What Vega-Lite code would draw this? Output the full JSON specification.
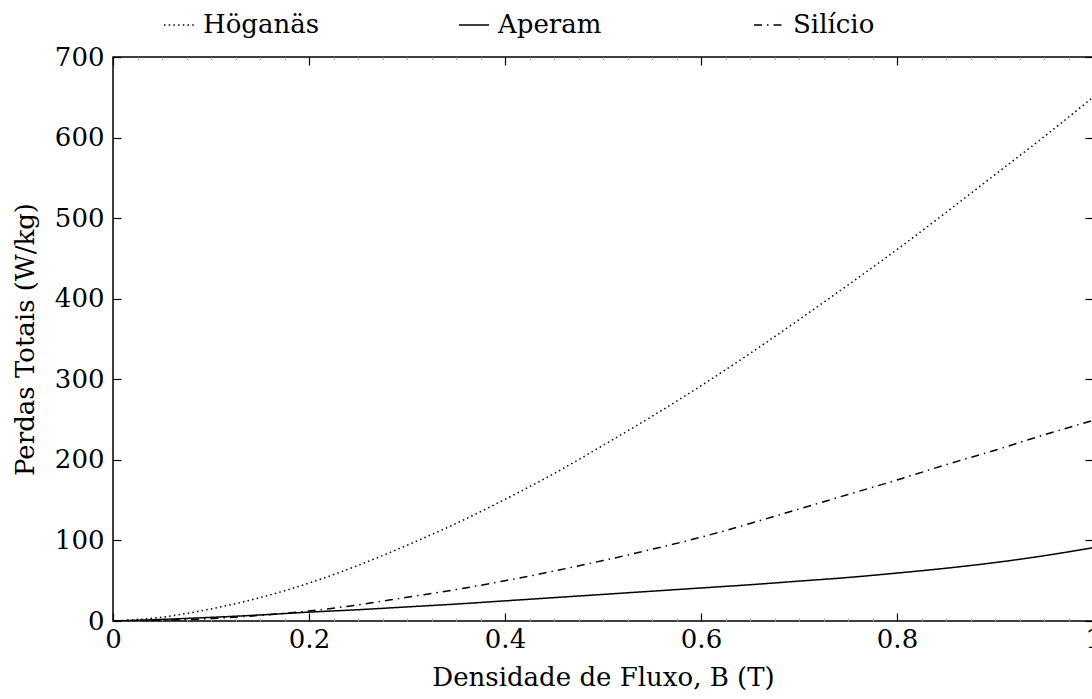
{
  "$schema": "https://vega.github.io/schema/vega-lite/v6.json",
  "width": 980,
  "height": 564,
  "autosize": {"type": "none"},
  "padding": {"left": 113, "top": 57, "right": 0, "bottom": 78},
  "background": "white",
  "config": {
    "view": {"stroke": "black", "strokeWidth": 1.5},
    "font": "DejaVu Serif",
    "axis": {"labelFont": "DejaVu Serif", "titleFont": "DejaVu Serif", "labelFontSize": 26, "titleFontSize": 26, "titleFontWeight": "normal", "labelColor": "black", "titleColor": "black", "grid": false, "domain": false, "tickColor": "black"},
    "legend": {"labelFont": "DejaVu Serif", "labelFontSize": 26, "labelColor": "black"}
  },
  "data": {"values": [
    {"B":0,"P":0,"m":"Höganäs"},{"B":0.05,"P":4.7,"m":"Höganäs"},{"B":0.1,"P":15,"m":"Höganäs"},{"B":0.15,"P":29,"m":"Höganäs"},{"B":0.2,"P":47,"m":"Höganäs"},{"B":0.25,"P":69,"m":"Höganäs"},{"B":0.3,"P":94,"m":"Höganäs"},{"B":0.35,"P":121,"m":"Höganäs"},{"B":0.4,"P":151,"m":"Höganäs"},{"B":0.45,"P":183,"m":"Höganäs"},{"B":0.5,"P":218,"m":"Höganäs"},{"B":0.55,"P":254,"m":"Höganäs"},{"B":0.6,"P":292,"m":"Höganäs"},{"B":0.65,"P":332,"m":"Höganäs"},{"B":0.7,"P":374,"m":"Höganäs"},{"B":0.75,"P":417,"m":"Höganäs"},{"B":0.8,"P":461,"m":"Höganäs"},{"B":0.85,"P":507,"m":"Höganäs"},{"B":0.9,"P":554,"m":"Höganäs"},{"B":0.95,"P":601,"m":"Höganäs"},{"B":1.0,"P":650,"m":"Höganäs"},
    {"B":0,"P":0,"m":"Aperam"},{"B":0.05,"P":2,"m":"Aperam"},{"B":0.1,"P":4.5,"m":"Aperam"},{"B":0.15,"P":7.5,"m":"Aperam"},{"B":0.2,"P":11,"m":"Aperam"},{"B":0.25,"P":14,"m":"Aperam"},{"B":0.3,"P":17.5,"m":"Aperam"},{"B":0.35,"P":21,"m":"Aperam"},{"B":0.4,"P":25,"m":"Aperam"},{"B":0.45,"P":29,"m":"Aperam"},{"B":0.5,"P":33,"m":"Aperam"},{"B":0.55,"P":37,"m":"Aperam"},{"B":0.6,"P":41,"m":"Aperam"},{"B":0.65,"P":45,"m":"Aperam"},{"B":0.7,"P":49.5,"m":"Aperam"},{"B":0.75,"P":54,"m":"Aperam"},{"B":0.8,"P":59.5,"m":"Aperam"},{"B":0.85,"P":65.5,"m":"Aperam"},{"B":0.9,"P":72.5,"m":"Aperam"},{"B":0.95,"P":81,"m":"Aperam"},{"B":1.0,"P":91,"m":"Aperam"},
    {"B":0,"P":0,"m":"Silício"},{"B":0.05,"P":0.8,"m":"Silício"},{"B":0.1,"P":3,"m":"Silício"},{"B":0.15,"P":7,"m":"Silício"},{"B":0.2,"P":12.5,"m":"Silício"},{"B":0.25,"P":20,"m":"Silício"},{"B":0.3,"P":29.5,"m":"Silício"},{"B":0.35,"P":39,"m":"Silício"},{"B":0.4,"P":50,"m":"Silício"},{"B":0.45,"P":62,"m":"Silício"},{"B":0.5,"P":75,"m":"Silício"},{"B":0.55,"P":89,"m":"Silício"},{"B":0.6,"P":104,"m":"Silício"},{"B":0.65,"P":121,"m":"Silício"},{"B":0.7,"P":139,"m":"Silício"},{"B":0.75,"P":157,"m":"Silício"},{"B":0.8,"P":175,"m":"Silício"},{"B":0.85,"P":194,"m":"Silício"},{"B":0.9,"P":212,"m":"Silício"},{"B":0.95,"P":231,"m":"Silício"},{"B":1.0,"P":249,"m":"Silício"}
  ]},
  "layer": [
    {
      "mark": {"type": "line", "color": "black", "strokeWidth": 1.5, "clip": true, "interpolate": "monotone"},
      "encoding": {
        "x": {"field": "B", "type": "quantitative", "scale": {"domain": [0, 1], "nice": false},
          "axis": {"orient": "bottom", "values": [0, 0.2, 0.4, 0.6, 0.8, 1], "format": ".1~f", "tickSize": -8, "tickWidth": 1.2, "labelPadding": 13, "labelFlush": false, "title": "Densidade de Fluxo, B (T)", "titlePadding": 12}},
        "y": {"field": "P", "type": "quantitative", "scale": {"domain": [0, 700], "nice": false},
          "axis": {"orient": "left", "values": [0, 100, 200, 300, 400, 500, 600, 700], "tickSize": -8, "tickWidth": 1.2, "labelPadding": 17, "labelFlush": false, "title": "Perdas Totais (W/kg)", "titlePadding": 16}},
        "strokeDash": {"field": "m", "type": "nominal",
          "scale": {"domain": ["Höganäs", "Aperam", "Silício"], "range": [[1.5, 3.2], [1, 0], [8, 5, 1.5, 5]]},
          "legend": {"orient": "none", "direction": "horizontal", "legendX": 50, "legendY": -48, "title": null, "symbolType": "stroke", "symbolSize": 900, "symbolStrokeWidth": 1.5, "symbolStrokeColor": "black", "labelOffset": 8, "columnPadding": 136, "gridAlign": "all"}}
      }
    },
    {
      "mark": {"type": "line", "opacity": 0},
      "encoding": {
        "x": {"field": "B", "type": "quantitative", "axis": {"orient": "top", "values": [0, 0.2, 0.4, 0.6, 0.8, 1], "tickSize": -8, "tickWidth": 1.2, "labels": false, "title": null}},
        "y": {"field": "P", "type": "quantitative", "axis": {"orient": "right", "values": [0, 100, 200, 300, 400, 500, 600, 700], "tickSize": -8, "tickWidth": 1.2, "labels": false, "title": null}}
      }
    },
    {
      "mark": {"type": "line", "opacity": 0},
      "encoding": {
        "x": {"field": "B", "type": "quantitative", "axis": {"orient": "bottom", "values": [0.025,0.05,0.075,0.1,0.125,0.15,0.175,0.225,0.25,0.275,0.3,0.325,0.35,0.375,0.425,0.45,0.475,0.5,0.525,0.55,0.575,0.625,0.65,0.675,0.7,0.725,0.75,0.775,0.825,0.85,0.875,0.9,0.925,0.95,0.975], "tickSize": -3, "tickColor": "#b0b0b0", "tickWidth": 1, "labels": false, "title": null}},
        "y": {"field": "P", "type": "quantitative", "axis": null}
      }
    },
    {
      "mark": {"type": "line", "opacity": 0},
      "encoding": {
        "x": {"field": "B", "type": "quantitative", "axis": {"orient": "top", "values": [0.025,0.05,0.075,0.1,0.125,0.15,0.175,0.225,0.25,0.275,0.3,0.325,0.35,0.375,0.425,0.45,0.475,0.5,0.525,0.55,0.575,0.625,0.65,0.675,0.7,0.725,0.75,0.775,0.825,0.85,0.875,0.9,0.925,0.95,0.975], "tickSize": -3, "tickColor": "#b0b0b0", "tickWidth": 1, "labels": false, "title": null}},
        "y": {"field": "P", "type": "quantitative", "axis": null}
      }
    }
  ],
  "resolve": {"axis": {"x": "independent", "y": "independent"}}
}
